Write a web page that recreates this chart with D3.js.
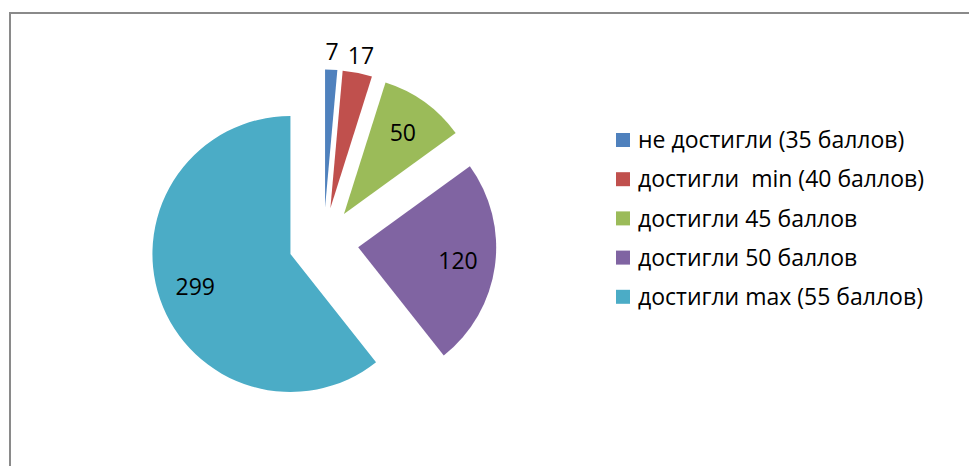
<!DOCTYPE html>
<html>
<head>
<meta charset="utf-8">
<script src="https://cdn.jsdelivr.net/npm/d3@7"></script>
<style>
  html, body { margin: 0; padding: 0; background: #fff; }
  text { font-family: 'Open Sans', sans-serif; fill: #000; }
</style>
</head>
<body>
<div id="chart"></div>
<script>
'use strict'

const categories = [
  'не достигли (35 баллов)',
  'достигли  min (40 баллов)',
  'достигли 45 баллов',
  'достигли 50 баллов',
  'достигли max (55 баллов)'
]
const values = [7, 17, 50, 120, 299]
const colors = ['#4F81BD', '#C0504D', '#9BBB59', '#8064A2', '#4BACC6']

const width = 969,
  height = 466,
  cx = 323.5,
  cy = 242.5,
  radius = 138,
  explode = 35,
  fontSize = 23

const svg = d3.select('#chart').append('svg')
  .attr('width', width)
  .attr('height', height)

// chart area border, runs off the right and bottom edge like the original
svg.append('rect')
  .attr('x', 10)
  .attr('y', 13)
  .attr('width', width + 20)
  .attr('height', height + 20)
  .attr('fill', '#fff')
  .attr('stroke', '#8a8a8a')
  .attr('stroke-width', 2)

const pie = d3.pie().sort(null).value(d => d)
const arcs = pie(values)

const arc = d3.arc().innerRadius(0).outerRadius(radius)

const pieGroup = svg.append('g')
  .attr('transform', `translate(${cx}, ${cy})`)

function offset (d, dist) {
  const a = (d.startAngle + d.endAngle) / 2
  return [Math.sin(a) * dist, -Math.cos(a) * dist]
}

const slices = pieGroup.selectAll('.slice')
  .data(arcs)
  .enter().append('g')
    .attr('class', 'slice')
    .attr('transform', d => {
      const [x, y] = offset(d, explode)
      return `translate(${x}, ${y})`
    })

slices.append('path')
  .attr('d', arc)
  .attr('fill', (d, i) => colors[i])

// thin slices get their label outside, the rest inside
slices.append('text')
  .attr('transform', d => {
    const small = (d.endAngle - d.startAngle) < 0.3
    const [x, y] = offset(d, radius * (small ? 1.13 : 0.73))
    return `translate(${x}, ${y})`
  })
  .attr('text-anchor', 'middle')
  .attr('dy', '0.36em')
  .style('font-size', fontSize + 'px')
  .text(d => d.data)

/*** Legend ***/

const legend = svg.append('g')
  .attr('transform', 'translate(616, 133)')

const items = legend.selectAll('.item')
  .data(categories)
  .enter().append('g')
    .attr('class', 'item')
    .attr('transform', (d, i) => `translate(0, ${i * 39.2})`)

items.append('rect')
  .attr('width', 14)
  .attr('height', 14)
  .attr('fill', (d, i) => colors[i])

items.append('text')
  .attr('x', 22)
  .attr('y', 7)
  .attr('dy', '0.36em')
  .style('font-size', fontSize + 'px')
  .style('white-space', 'pre')
  .attr('xml:space', 'preserve')
  .text(d => d)
</script>
</body>
</html>
